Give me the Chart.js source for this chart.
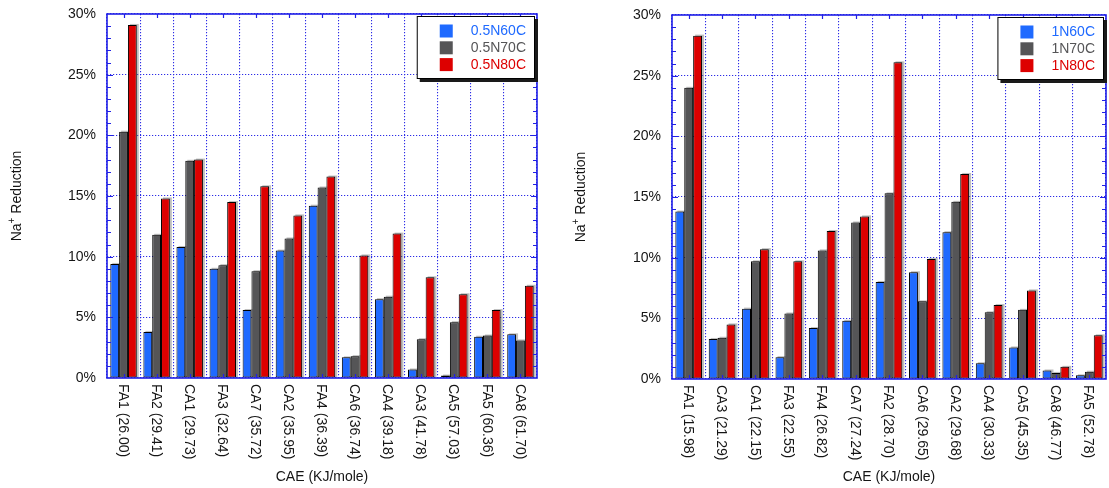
<!DOCTYPE html>
<html>
<head>
<meta charset="utf-8">
<title>Na+ Reduction vs CAE</title>
<script src="https://cdn.jsdelivr.net/npm/chart.js@4.4.0/dist/chart.umd.min.js"></script>
<style>
  html, body { margin: 0; padding: 0; background: #ffffff; }
  #wrap { position: relative; width: 1109px; height: 488px; overflow: hidden; }
  #wrap canvas { position: absolute; top: 0; }
</style>
</head>
<body>
<div id="wrap">
  <canvas id="chartLeft" width="555" height="488" style="left:0px"></canvas>
  <canvas id="chartRight" width="555" height="488" style="left:554px"></canvas>
</div>
<script>
// ---- data: 0.5 N series ----
const halfNCategories = ['FA1 (26.00)', 'FA2 (29.41)', 'CA1 (29.73)', 'FA3 (32.64)', 'CA7 (35.72)', 'CA2 (35.95)',
  'FA4 (36.39)', 'CA6 (36.74)', 'CA4 (39.18)', 'CA3 (41.78)', 'CA5 (57.03)', 'FA5 (60.36)', 'CA8 (61.70)'];
const halfN60C = [9.4, 3.8, 10.8, 9.0, 5.6, 10.5, 14.2, 1.7, 6.5, 0.7, 0.2, 3.4, 3.6];
const halfN70C = [20.3, 11.8, 17.9, 9.3, 8.8, 11.5, 15.7, 1.8, 6.7, 3.2, 4.6, 3.5, 3.1];
const halfN80C = [29.1, 14.8, 18.0, 14.5, 15.8, 13.4, 16.6, 10.1, 11.9, 8.3, 6.9, 5.6, 7.6];
const halfNLabels = ['0.5N60C', '0.5N70C', '0.5N80C'];

// ---- data: 1 N series ----
const oneNCategories = ['FA1 (15.98)', 'CA3 (21.29)', 'CA1 (22.15)', 'FA3 (22.55)', 'FA4 (26.82)', 'CA7 (27.24)',
  'FA2 (28.70)', 'CA6 (29.65)', 'CA2 (29.68)', 'CA4 (30.33)', 'CA5 (45.35)', 'CA8 (46.77)', 'FA5 (52.78)'];
const oneN60C = [13.8, 3.3, 5.8, 1.8, 4.2, 4.8, 8.0, 8.8, 12.1, 1.3, 2.6, 0.7, 0.3];
const oneN70C = [24.0, 3.4, 9.7, 5.4, 10.6, 12.9, 15.3, 6.4, 14.6, 5.5, 5.7, 0.5, 0.6];
const oneN80C = [28.3, 4.5, 10.7, 9.7, 12.2, 13.4, 26.1, 9.9, 16.9, 6.1, 7.3, 1.0, 3.6];
const oneNLabels = ['1N60C', '1N70C', '1N80C'];

// ---- axis range and text ----
const yMin = 0, yMax = 30, yStep = 5, yMinorStep = 1;
const xTitle = 'CAE (KJ/mole)';
const yTitleParts = ['Na', '+', ' Reduction'];

// ---- styles ----
const FONT = '"Liberation Sans", Arial, Helvetica, sans-serif';
const seriesColors = ['#1f6aff', '#555557', '#dd0000'];
const frameBlue = '#2020e6';
const gridBlue = '#2c2ce6';

function decorPlugin(frame) {
  return {
    id: 'decor',
    beforeDatasetsDraw(chart) {
      // soft shadow to the upper right of every bar
      const ctx = chart.ctx, a = chart.chartArea;
      ctx.save();
      ctx.beginPath();
      ctx.rect(a.left, a.top - 2, a.right - a.left, a.bottom - a.top + 2);
      ctx.clip();
      ctx.fillStyle = 'rgba(110,110,110,0.45)';
      chart.data.datasets.forEach((ds, di) => {
        chart.getDatasetMeta(di).data.forEach(el => {
          const p = el.getProps(['x', 'y', 'base', 'width'], true);
          const h = p.base - p.y;
          if (h <= 0) return;
          ctx.fillRect(p.x - p.width / 2 + 2, p.y - 1, p.width, h + 1);
        });
      });
      ctx.restore();
    },
    afterDraw(chart) {
      const ctx = chart.ctx, a = chart.chartArea;
      const xs = chart.scales.x, ys = chart.scales.y;
      ctx.save();

      // frame tick marks pointing inward
      ctx.strokeStyle = frameBlue;
      ctx.lineWidth = 1.2;
      ctx.beginPath();
      for (let v = yMin + yMinorStep; v < yMax; v += yMinorStep) {
        const y = Math.round(ys.getPixelForValue(v)) + 0.5;
        const len = (v % yStep === 0) ? 6 : 4;
        ctx.moveTo(a.left, y); ctx.lineTo(a.left + len, y);
        ctx.moveTo(a.right, y); ctx.lineTo(a.right - len, y);
      }
      chart.data.labels.forEach((_, i) => {
        const x = Math.round(xs.getPixelForValue(i)) + 0.5;
        ctx.moveTo(x, a.top); ctx.lineTo(x, a.top + 4);
        ctx.moveTo(x, a.bottom); ctx.lineTo(x, a.bottom - 4);
      });
      ctx.stroke();

      // plot frame
      ctx.lineWidth = 1.6;
      ctx.strokeRect(a.left, a.top, a.right - a.left, a.bottom - a.top);

      // category labels, rotated to read downward
      ctx.fillStyle = '#151515';
      ctx.font = '14px ' + FONT;
      ctx.textAlign = 'left';
      ctx.textBaseline = 'middle';
      chart.data.labels.forEach((lab, i) => {
        const x = xs.getPixelForValue(i);
        ctx.save();
        ctx.translate(x - 1, a.bottom + 6);
        ctx.rotate(Math.PI / 2);
        ctx.fillText(lab, 0, 0);
        ctx.restore();
      });

      // x axis title
      ctx.textAlign = 'center';
      ctx.fillText(xTitle, (a.left + a.right) / 2, frame.xTitleY);

      // y axis title with superscript charge
      ctx.save();
      ctx.translate(frame.yTitleX, (a.top + a.bottom) / 2);
      ctx.rotate(-Math.PI / 2);
      const big = '14px ' + FONT, small = '10px ' + FONT;
      ctx.font = big; const w0 = ctx.measureText(yTitleParts[0]).width;
      ctx.font = small; const w1 = ctx.measureText(yTitleParts[1]).width;
      ctx.font = big; const w2 = ctx.measureText(yTitleParts[2]).width;
      let tx = -(w0 + w1 + w2) / 2;
      ctx.textAlign = 'left';
      ctx.font = big; ctx.fillText(yTitleParts[0], tx, 0); tx += w0;
      ctx.font = small; ctx.fillText(yTitleParts[1], tx, -5); tx += w1;
      ctx.font = big; ctx.fillText(yTitleParts[2], tx, 0);
      ctx.restore();

      // legend box in the upper right corner of the plot
      ctx.font = '14px ' + FONT;
      const labels = chart.data.datasets.map(d => d.label);
      const tw = Math.max(...labels.map(t => ctx.measureText(t).width));
      const boxW = 23 + 13 + 18 + tw + 9;
      const boxH = 63;
      const bx = a.right - 2 - boxW, by = a.top + 2;
      ctx.fillStyle = '#1a1a1a';
      ctx.fillRect(bx + 3, by + 3, boxW, boxH);
      ctx.fillStyle = '#ffffff';
      ctx.fillRect(bx, by, boxW, boxH);
      ctx.strokeStyle = '#000000';
      ctx.lineWidth = 1;
      ctx.strokeRect(bx + 0.5, by + 0.5, boxW - 1, boxH - 1);
      ctx.textAlign = 'left';
      ctx.textBaseline = 'middle';
      chart.data.datasets.forEach((ds, i) => {
        const cy = by + 15 + i * 16.8;
        ctx.fillStyle = ds.backgroundColor;
        ctx.fillRect(bx + 23, cy - 6.5, 13, 13);
        ctx.fillText(ds.label, bx + 23 + 13 + 18, cy + 0.5);
      });

      ctx.restore();
    }
  };
}

function buildChart(canvasId, categories, seriesValues, seriesLabels, frame) {
  const W = 555, H = 488;
  return new Chart(document.getElementById(canvasId), {
    type: 'bar',
    data: {
      labels: categories,
      datasets: seriesValues.map((vals, i) => ({
        label: seriesLabels[i],
        data: vals,
        backgroundColor: seriesColors[i],
        borderColor: '#000000',
        borderWidth: 1,
        borderSkipped: false,
        categoryPercentage: 0.8,
        barPercentage: 1.0
      }))
    },
    options: {
      responsive: false,
      animation: false,
      devicePixelRatio: 1,
      layout: { padding: { left: 0, top: frame.top, right: W - frame.right, bottom: 0 } },
      plugins: { legend: { display: false }, tooltip: { enabled: false } },
      scales: {
        x: {
          offset: true,
          ticks: { display: false },
          grid: { offset: true, color: gridBlue, lineWidth: 1.1, drawTicks: false },
          border: { display: false, dash: [1.2, 1.8] },
          afterFit: s => { s.height = H - frame.bottom; s.paddingLeft = 0; s.paddingRight = 0; }
        },
        y: {
          min: yMin, max: yMax,
          ticks: {
            stepSize: yStep,
            padding: 11,
            color: '#151515',
            font: { family: FONT, size: 14 },
            callback: v => v + '%'
          },
          grid: { color: gridBlue, lineWidth: 1.1, drawTicks: false },
          border: { display: false, dash: [1.2, 1.8] },
          afterFit: s => { s.width = frame.left; s.paddingTop = 0; s.paddingBottom = 0; }
        }
      }
    },
    plugins: [decorPlugin(frame)]
  });
}

buildChart('chartLeft', halfNCategories, [halfN60C, halfN70C, halfN80C], halfNLabels,
  { left: 107, right: 537, top: 14, bottom: 378, yTitleX: 17, xTitleY: 477 });
buildChart('chartRight', oneNCategories, [oneN60C, oneN70C, oneN80C], oneNLabels,
  { left: 118, right: 552, top: 15, bottom: 379, yTitleX: 27, xTitleY: 477 });
</script>
</body>
</html>
